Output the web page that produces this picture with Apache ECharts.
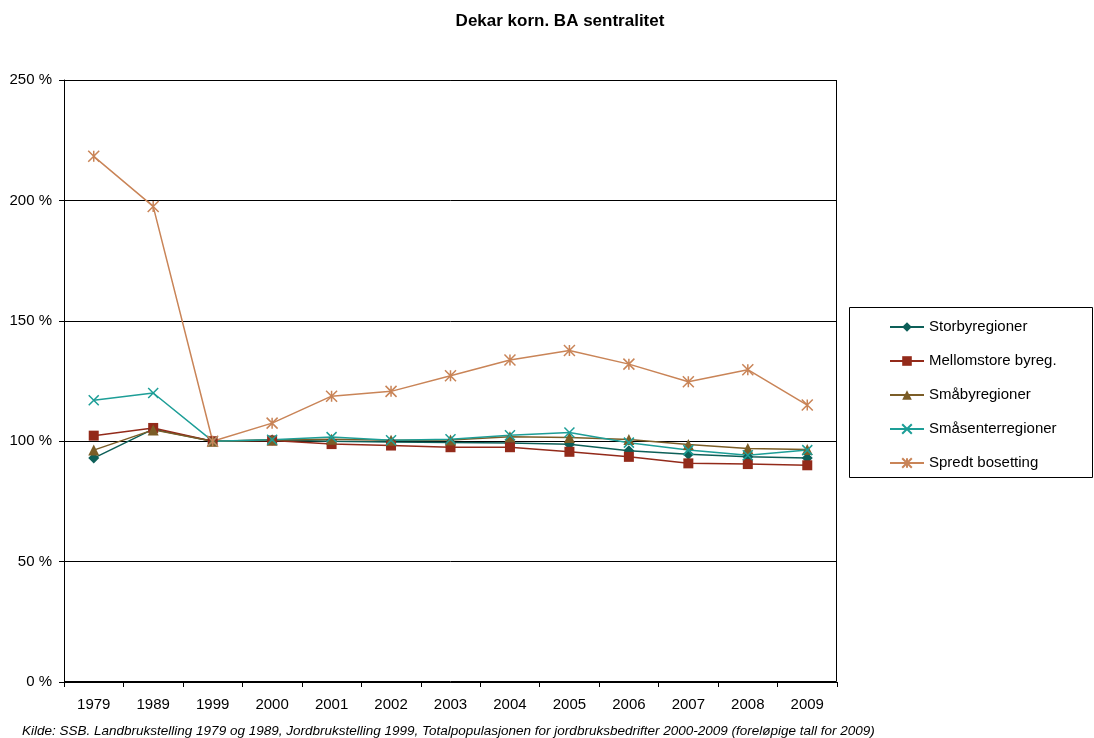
<!DOCTYPE html>
<html><head><meta charset="utf-8">
<script src="https://cdn.jsdelivr.net/npm/echarts@6/dist/echarts.min.js"></script>
<style>html,body{margin:0;padding:0;background:#fff}#c{width:1094px;height:738px}</style>
</head><body><div id="c"></div>
<script>
const years = ['1979','1989','1999','2000','2001','2002','2003','2004','2005','2006','2007','2008','2009'];
const storby = [93, 105, 100, 100.5, 100, 99.7, 99.5, 99.3, 98.7, 96, 94.6, 93.5, 93];
const mellomstore = [102.3, 105.5, 100, 100.3, 98.8, 98.2, 97.5, 97.5, 95.6, 93.5, 90.8, 90.5, 90];
const smaby = [96.3, 104.7, 100, 100.5, 100.8, 100.4, 100.5, 101.8, 101.5, 100.7, 98.6, 97, 96.6];
const smasenter = [117, 120, 100, 100.6, 101.7, 100.4, 100.8, 102.5, 103.6, 99.4, 96.3, 94.2, 96.3];
const spredt = [218.3, 197.5, 100, 107.5, 118.7, 120.7, 127.2, 133.7, 137.7, 132, 124.7, 129.7, 115];
const yTicks = [0, 50, 100, 150, 200, 250];

const crossPath = 'path://M0,0L10,10M10,0L0,10';
const starPath = 'path://M0,0L10,10M10,0L0,10M5,0L5,10';

const seriesDefs = [
  {name:'Storbyregioner', data:storby, color:'#0d5f58', symbol:'diamond', size:11},
  {name:'Mellomstore byreg.', data:mellomstore, color:'#932a1a', symbol:'rect', size:10},
  {name:'Småbyregioner', data:smaby, color:'#7b5d27', symbol:'triangle', size:11},
  {name:'Småsenterregioner', data:smasenter, color:'#1d9e97', symbol:crossPath, size:10, stroke:true},
  {name:'Spredt bosetting', data:spredt, color:'#c98457', symbol:starPath, size:11, stroke:true}
];

const chart = echarts.init(document.getElementById('c'), null, {renderer:'canvas'});
const font = 'Liberation Sans, Arial, sans-serif';
chart.setOption({
  animation:false,
  backgroundColor:'#fff',
  textStyle:{fontFamily:font},
  title:{text:'Dekar korn. BA sentralitet', left:555, textAlign:'center', top:8,
    textStyle:{fontSize:17, fontWeight:'bold', color:'#000', fontFamily:font}},
  grid:{left:64, right:257, top:80, bottom:56},
  legend:{orient:'vertical', left:889, top:318, padding:0,
    itemGap:16, itemWidth:34, itemHeight:12,
    textStyle:{fontSize:15, color:'#000', fontFamily:font, lineHeight:18},
    data:seriesDefs.map(s=>s.name)},
  xAxis:{type:'category', data:years, boundaryGap:true,
    axisLine:{lineStyle:{color:'#000', width:1}},
    axisTick:{show:true, inside:false, length:5, lineStyle:{color:'#000'}},
    axisLabel:{fontSize:15, color:'#000', margin:15, fontFamily:font},
    splitLine:{show:false}},
  yAxis:{type:'value', min:0, max:250, interval:50,
    axisLine:{show:true, lineStyle:{color:'#000'}},
    axisTick:{show:true, length:5, lineStyle:{color:'#000'}},
    axisLabel:{fontSize:15, color:'#000', margin:12, fontFamily:font,
      formatter:v=>v+' %'},
    splitLine:{show:true, lineStyle:{color:'#000', width:1}}},
  series: seriesDefs.map(s=>({
    name:s.name, type:'line', data:s.data, symbol:s.symbol, symbolSize:s.size,
    showAllSymbol:true,
    lineStyle:{color:s.color, width:1.5},
    itemStyle: s.stroke ? {color:s.color, borderColor:s.color, borderWidth:1.5} : {color:s.color, borderWidth:0},
    emphasis:{disabled:true}
  })),
  graphic:[
    {type:'rect', shape:{x:64.5, y:80.5, width:772, height:601}, style:{fill:'none', stroke:'#000', lineWidth:1}, silent:true, z:-1},
    {type:'rect', shape:{x:849.5, y:307.5, width:243, height:170}, style:{fill:'none', stroke:'#000', lineWidth:1}, silent:true},
    {type:'text', left:22, top:724, style:{text:'Kilde: SSB. Landbrukstelling 1979 og 1989, Jordbrukstelling 1999, Totalpopulasjonen for jordbruksbedrifter 2000-2009 (foreløpige tall for 2009)', font:'italic 13.5px Liberation Sans, Arial, sans-serif', fill:'#000'}}]
});
</script></body></html>
